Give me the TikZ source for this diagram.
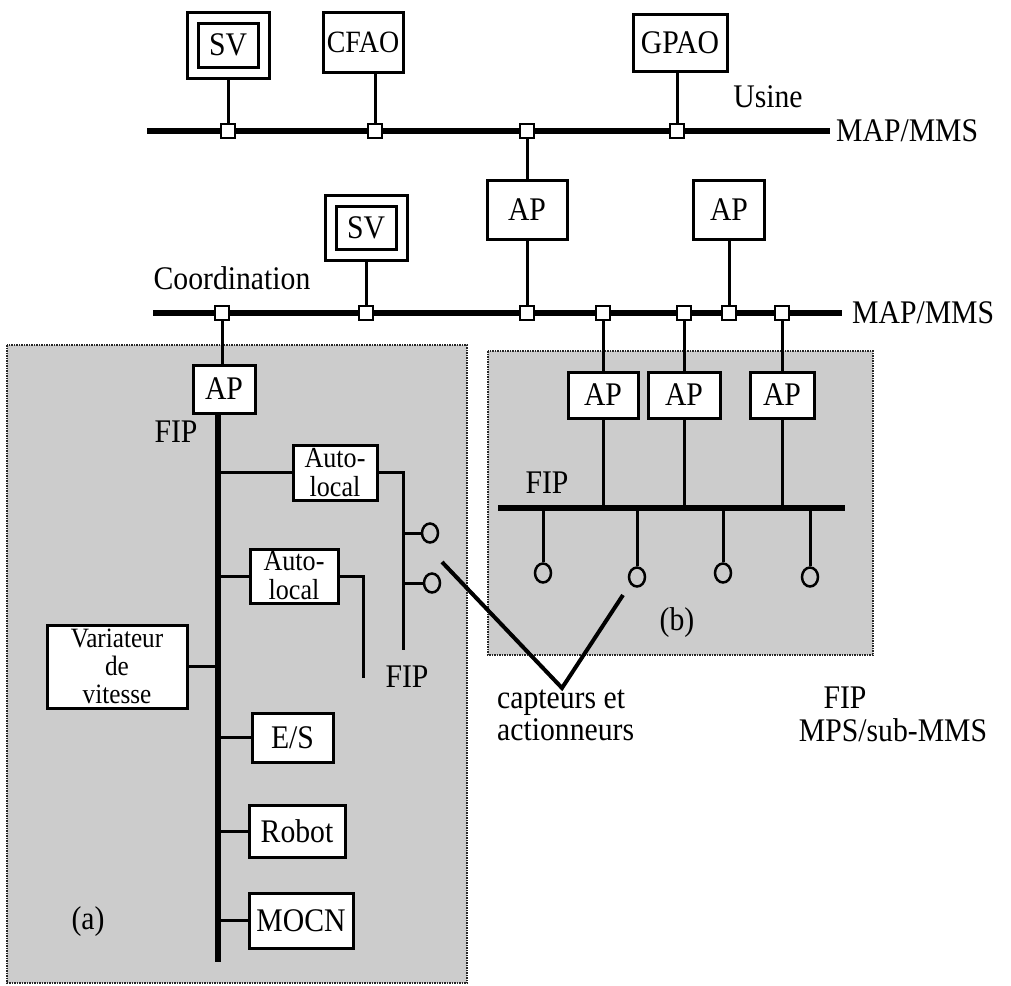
\documentclass[tikz,border=0pt]{standalone}
\usepackage{fontspec}
\setmainfont[FakeStretch=0.9]{Liberation Serif}
\usetikzlibrary{shapes.geometric}
\pgfdeclarelayer{panel}
\pgfdeclarelayer{bg}
\pgfsetlayers{panel,bg,main}
\begin{document}
\begin{tikzpicture}[x=1pt,y=-1pt,
  every node/.style={font=\fontsize{33}{28}\selectfont, inner sep=0pt},
  box/.style={draw, line width=3pt, fill=white, align=center},
  dbox/.style={draw, line width=3pt, double=white, double distance=8pt, fill=white},
  jn/.style={draw, line width=2.4pt, fill=white, minimum size=14pt},
  bus/.style={line width=6pt},
  conn/.style={line width=3pt},
  vline/.style={line width=4pt},
  sensor/.style={ellipse, draw, line width=2.5pt, minimum width=16pt, minimum height=19pt},
  panelbox/.style={fill=black!20, draw=black!85, densely dotted, line width=1.5pt},
  lbl/.style={inner sep=0pt},
  twol/.style={font=\fontsize{29}{29}\selectfont}
]
\useasboundingbox (0,0) rectangle (1011,985);

% ---------- panels ----------
\begin{pgfonlayer}{panel}
  \draw[panelbox] (7,345) rectangle (467,983);
  \draw[panelbox] (488,351) rectangle (873,655);
\end{pgfonlayer}

% ---------- top level (Usine) ----------
\node[dbox, minimum width=71, minimum height=55] (svA) at (228,45) {SV};
\node[box, minimum width=80, minimum height=60, font=\fontsize{31}{28}\selectfont] (cfao) at (363,42) {CFAO};
\node[box, minimum width=94, minimum height=57] (gpao) at (680,43) {GPAO};
\node[box, minimum width=80, minimum height=59] (apM) at (527,210) {AP};
\node[box, minimum width=71, minimum height=59] (apR) at (729,210) {AP};
\node[dbox, minimum width=71, minimum height=54] (svB) at (366,228) {SV};

\node[jn] (jU1) at (228,131) {};
\node[jn] (jU2) at (375,131) {};
\node[jn] (jU3) at (527,131) {};
\node[jn] (jU4) at (677,131) {};

\coordinate (uL) at (147,131);
\coordinate (uR) at (830,131);
\node[lbl] (usine) at (768,97) {Usine};
\node[lbl, anchor=west] (map1) at (836,131) {MAP/MMS};

% ---------- coordination level ----------
\node[jn] (jC1) at (222,313) {};
\node[jn] (jC2) at (366,313) {};
\node[jn] (jC3) at (527,313) {};
\node[jn] (jC4) at (603,313) {};
\node[jn] (jC5) at (684,313) {};
\node[jn] (jC6) at (729,313) {};
\node[jn] (jC7) at (782,313) {};
\coordinate (cL) at (153,313);
\coordinate (cR) at (842,313);
\node[lbl] (coord) at (232,278) {Coordination};
\node[lbl, anchor=west] (map2) at (852,313) {MAP/MMS};

% ---------- panel (a) ----------
\node[box, minimum width=62, minimum height=48] (apL) at (224,389) {AP};
\coordinate (fA) at (218,962);
\node[lbl] (fipA) at (176,432) {FIP};
\node[box, twol, minimum width=84, minimum height=55] (autoA) at (335,472.5) {Auto-\\local};
\node[box, twol, minimum width=88, minimum height=54] (autoB) at (294,576) {Auto-\\local};
\node[box, minimum width=140, minimum height=83, font=\fontsize{28}{28}\selectfont] (var) at (117,666.5) {Variateur\\de\\vitesse};
\node[box, minimum width=81, minimum height=49] (es) at (292.5,737.5) {E/S};
\node[box, minimum width=96, minimum height=52] (robot) at (297,831) {Robot};
\node[box, minimum width=104, minimum height=55] (mocn) at (301,920.5) {MOCN};
\node[lbl] (la) at (88,922) {(a)};
\coordinate (aA) at (403,650);
\coordinate (aB) at (363,678);
\node[sensor] (c1) at (430,533) {};
\node[sensor] (c2) at (432,583) {};
\node[lbl] (fipA2) at (407,677) {FIP};

% ---------- panel (b) ----------
\node[box, minimum width=70, minimum height=46] (apb1) at (603,395) {AP};
\node[box, minimum width=72, minimum height=46] (apb2) at (684,395) {AP};
\node[box, minimum width=64, minimum height=46] (apb3) at (782,395) {AP};
\coordinate (fb1) at (498,508);
\coordinate (fb2) at (845,508);
\node[lbl] (fipB) at (547,483) {FIP};
\node[sensor] (s1) at (543,573) {};
\node[sensor] (s2) at (637,577) {};
\node[sensor] (s3) at (723,573) {};
\node[sensor] (s4) at (810,577) {};
\node[lbl] (lb) at (677,623) {(b)};

% ---------- capteurs ----------
\coordinate (v1) at (442,562);
\coordinate (v2) at (562,688);
\coordinate (v3) at (623,595);
\node[lbl, align=left, anchor=north west, font=\fontsize{33}{32}\selectfont] (capt) at (497,690) {capteurs et\\actionneurs};
\node[lbl] (fipC) at (845,698) {FIP};
\node[lbl] (mps) at (893,730) {MPS/sub-MMS};

% ---------- lines ----------
\begin{pgfonlayer}{bg}
  \draw[bus] (uL) -- (uR);
  \draw[bus] (cL) -- (cR);
  \draw[conn] (svA) -- (jU1);
  \draw[conn] (jU2) -- (jU2 |- cfao.south);
  \draw[conn] (jU4) -- (jU4 |- gpao.south);
  \draw[conn] (jU3) -- (apM);
  \draw[conn] (apM) -- (jC3);
  \draw[conn] (svB) -- (jC2);
  \draw[conn] (apR) -- (jC6);
  % panel a
  \draw[conn] (jC1) -- (jC1 |- apL.north);
  \draw[bus] (apL.south -| fA) -- (fA);
  \draw[conn] (autoA.west) -- (autoA.west -| fA);
  \draw[conn] (autoB.west) -- (autoB.west -| fA);
  \draw[conn] (var.east) -- (var.east -| fA);
  \draw[conn] (es.west) -- (es.west -| fA);
  \draw[conn] (robot.west) -- (robot.west -| fA);
  \draw[conn] (mocn.west) -- (mocn.west -| fA);
  \draw[conn] (autoA.east) -| (aA);
  \draw[conn] (autoB.east) -| (aB);
  \draw[conn] (c1.west) -- (c1.west -| aA);
  \draw[conn] (c2.west) -- (c2.west -| aA);
  % panel b
  \draw[conn] (jC4) -- (apb1);
  \draw[conn] (jC5) -- (apb2);
  \draw[conn] (jC7) -- (apb3);
  \draw[bus] (fb1) -- (fb2);
  \draw[conn] (apb1.south) -- (apb1.south |- fb1);
  \draw[conn] (apb2.south) -- (apb2.south |- fb1);
  \draw[conn] (apb3.south) -- (apb3.south |- fb1);
  \draw[conn] (s1.north) -- (s1.north |- fb1);
  \draw[conn] (s2.north) -- (s2.north |- fb1);
  \draw[conn] (s3.north) -- (s3.north |- fb1);
  \draw[conn] (s4.north) -- (s4.north |- fb1);
  % capteurs
  \draw[vline] (v1) -- (v2) -- (v3);
\end{pgfonlayer}
\end{tikzpicture}
\end{document}
